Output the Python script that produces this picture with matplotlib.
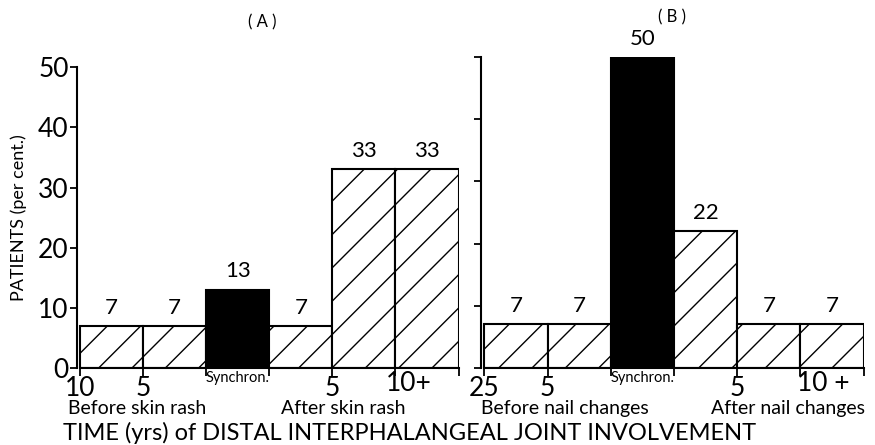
import numpy as np
import matplotlib
matplotlib.use("Agg")
import matplotlib.pyplot as plt
import matplotlib.transforms as mtransforms

plt.rcParams['font.family'] = ['Lato', 'DejaVu Sans']
plt.rcParams['hatch.linewidth'] = 1.0

# Panel A: relative to skin rash
values_a = [7, 7, 13, 7, 33, 33]
tick_labels_a = ['10', '5', '', '', '5', '', '']
plus_label_a = '10+'
group_labels_a = ['Before skin rash', 'After skin rash']

# Panel B: relative to nail changes
values_b = [7, 7, 50, 22, 7, 7]
tick_labels_b = ['25', '5', '', '', '5', '', '']
plus_label_b = '10 +'
group_labels_b = ['Before nail changes', 'After nail changes']

synchron_index = 2
yticks = [0, 10, 20, 30, 40, 50]

fig = plt.figure(figsize=(8.75, 4.45), dpi=100)
ax_a = fig.add_axes([0.088, 0.173, 0.436, 0.676])
ax_b = fig.add_axes([0.550, 0.173, 0.437, 0.699])


def draw_panel(ax, values, tick_labels, plus_label, plus_x, group_labels,
               group_x, show_ylabels):
    n = len(values)
    x = np.arange(n)
    for i, v in enumerate(values):
        if i == synchron_index:
            ax.bar(x[i], v, width=1, align='edge', color='black',
                   edgecolor='black', linewidth=1.5)
        else:
            ax.bar(x[i], v, width=1, align='edge', color='white',
                   edgecolor='black', hatch='/', linewidth=1.5)
        ax.annotate(str(v), (x[i] + 0.5, v), xytext=(0, 6),
                    textcoords='offset points', ha='center', va='bottom',
                    fontsize=16)

    ax.set_xlim(-0.05, n)
    ax.set_ylim(0, 50)
    ax.spines['top'].set_visible(False)
    ax.spines['right'].set_visible(False)
    ax.spines['left'].set_linewidth(1.5)
    ax.spines['bottom'].set_linewidth(1.5)
    ax.spines['bottom'].set_bounds(0, n)

    ax.set_yticks(yticks)
    if show_ylabels:
        ax.set_yticklabels([str(t) for t in yticks], fontsize=19)
    else:
        ax.set_yticklabels([])
    ax.tick_params(axis='y', direction='out', length=5, width=1.3, pad=1)

    ax.set_xticks(np.arange(n + 1))
    ax.set_xticklabels(tick_labels, fontsize=19)
    ax.tick_params(axis='x', direction='out', length=6, width=1.3, pad=0)

    trans = mtransforms.blended_transform_factory(ax.transData, fig.transFigure)
    ax.text(plus_x, 0.139, plus_label, ha='center', va='center',
            fontsize=19, transform=trans)
    ax.text(synchron_index + 0.5, 0.150, 'Synchron.', ha='center',
            va='center', fontsize=10.5, transform=trans)
    ax.text(group_x[0], 0.083, group_labels[0], ha='center', va='center',
            fontsize=14, transform=trans)
    ax.text(group_x[1], 0.083, group_labels[1], ha='center', va='center',
            fontsize=14, transform=trans)


draw_panel(ax_a, values_a, tick_labels_a, plus_label_a, 5.22,
           group_labels_a, [0.9, 4.17], True)
draw_panel(ax_b, values_b, tick_labels_b, plus_label_b, 5.36,
           group_labels_b, [1.28, 4.8], False)

ax_a.set_ylabel('PATIENTS (per cent.)', fontsize=13, labelpad=8)

fig.text(0.300, 0.950, '( A )', ha='center', va='center', fontsize=12)
fig.text(0.768, 0.962, '( B )', ha='center', va='center', fontsize=12)
fig.text(0.468, 0.026, 'TIME (yrs) of DISTAL INTERPHALANGEAL JOINT INVOLVEMENT',
         ha='center', va='center', fontsize=17)

fig.savefig('out.png', dpi=100)
